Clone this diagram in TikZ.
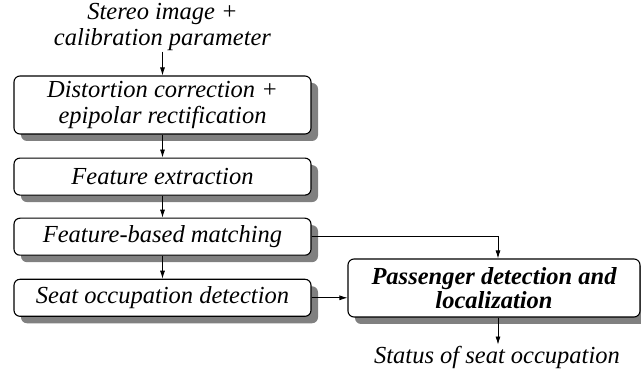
\documentclass[tikz,border=0pt]{standalone}
\usepackage{fontspec}
\setmainfont{Liberation Serif}
\usepackage{tikz}
\usetikzlibrary{positioning}
\usetikzlibrary{arrows.meta,positioning,shadows}
\tikzset{every node/.style={font=\rmfamily\fontsize{24.5}{25.5}\selectfont\itshape}}

\begin{document}
\begin{tikzpicture}[
x=1pt, y=-1pt,
node distance=23pt,
stepbox/.style={
draw,
line width=1.1pt,
rectangle,
rounded corners=6pt,
fill=white,
align=center,
minimum width=297pt,
minimum height=37pt,
inner sep=0pt,
drop shadow={shadow xshift=7pt, shadow yshift=-7pt, fill=black!50, opacity=1}
},
flow/.style={-{Latex[length=8pt,width=5pt]}, line width=0.8pt}
]
\useasboundingbox (0,0) rectangle (641,371);

\node[align=center, inner sep=1pt] (input) at (162.5,27)
{Stereo image +\\ calibration parameter};

\node[stepbox, minimum height=58pt] (rectify) at (162.5,105)
{Distortion correction +\\ epipolar rectification};

\node[stepbox, below=of rectify] (feature) {Feature extraction};

\node[stepbox, below=22pt of feature] (matching) {Feature-based matching};

\node[stepbox, below=of matching] (seat) {Seat occupation detection};

\node[stepbox, minimum width=292pt, minimum height=58pt,
font=\rmfamily\fontsize{24.5}{24}\selectfont\bfseries\itshape] (passenger) at (494,288)
{Passenger detection and\\ localization};

\node[inner sep=1pt] (status) at (497,357) {Status of seat occupation};

\draw[flow] (input) -- (rectify);
\draw[flow] (rectify) -- (feature);
\draw[flow] (feature) -- (matching);
\draw[flow] (matching) -- (seat);
\draw[flow] (matching.east) -| ([xshift=4pt]passenger.north);
\draw[flow] (seat.east) -- (seat.east -| passenger.west);
\draw[flow] ([xshift=4pt]passenger.south) -- ([xshift=4pt]passenger.south |- status.north);
\end{tikzpicture}
\end{document}
